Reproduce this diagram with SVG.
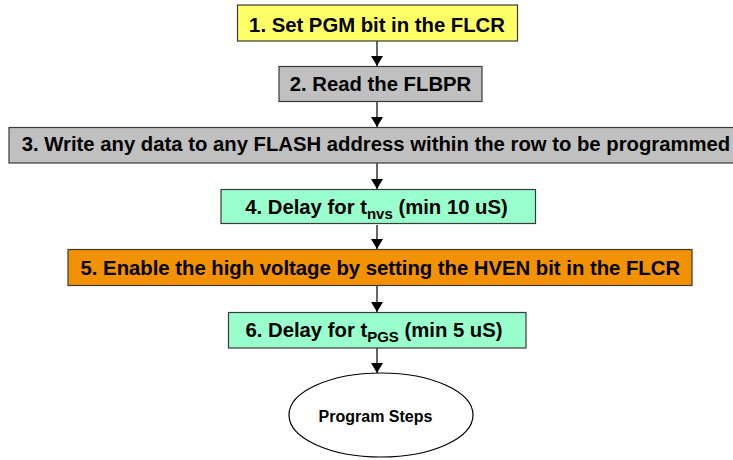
<svg xmlns="http://www.w3.org/2000/svg" width="733" height="460" viewBox="0 0 733 460">
<defs>
<marker id="arr" viewBox="0 0 10 12" refX="10" refY="6" markerWidth="10" markerHeight="12" orient="auto" markerUnits="userSpaceOnUse">
<path d="M0,0 L10,6 L0,12 Z" fill="#000"/>
</marker>
<style>
.box{stroke:#3a3a3a;stroke-width:1.2}
.t{font-family:"Liberation Sans",Arial,sans-serif;font-weight:bold;font-size:20.3px;fill:#000;text-anchor:middle}
.c{stroke:#000;stroke-width:1.2;fill:none;marker-end:url(#arr)}
</style>
</defs>
<rect width="733" height="460" fill="#fff"/>
<g id="connectors">
<line class="c" x1="377" y1="41" x2="377" y2="66"/>
<line class="c" x1="377" y1="102" x2="377" y2="127"/>
<line class="c" x1="377" y1="163" x2="377" y2="189"/>
<line class="c" x1="377" y1="225" x2="377" y2="249"/>
<line class="c" x1="377" y1="286" x2="377" y2="312"/>
<line class="c" x1="377" y1="348" x2="377" y2="373"/>
</g>
<g id="step1">
<rect class="box" x="237.5" y="5" width="280" height="36" fill="#FFFF66"/>
<text class="t" x="377" y="32">1. Set PGM bit in the FLCR</text>
</g>
<g id="step2">
<rect class="box" x="279" y="66.5" width="203" height="35" fill="#C0C0C0"/>
<text class="t" x="380.5" y="91">2. Read the FLBPR</text>
</g>
<g id="step3">
<rect class="box" x="9" y="127.5" width="740" height="35.5" fill="#C0C0C0"/>
<text class="t" x="376" y="151">3. Write any data to any FLASH address within the row to be programmed</text>
</g>
<g id="step4">
<rect class="box" x="221" y="189.5" width="314.5" height="34" fill="#99FFCC"/>
<text class="t" x="376.5" y="213.5">4. Delay for t<tspan font-size="15" dy="5">nvs</tspan><tspan dy="-5"> (min 10 uS)</tspan></text>
</g>
<g id="step5">
<rect class="box" x="68" y="249.5" width="624" height="36" fill="#F39200"/>
<text class="t" x="380.3" y="275">5. Enable the high voltage by setting the HVEN bit in the FLCR</text>
</g>
<g id="step6">
<rect class="box" x="228.5" y="312.5" width="297.5" height="35.5" fill="#99FFCC"/>
<text class="t" x="374" y="337">6. Delay for t<tspan font-size="15" dy="5">PGS</tspan><tspan dy="-5"> (min 5 uS)</tspan></text>
</g>
<g id="end">
<ellipse cx="381" cy="415" rx="92" ry="42" fill="#fff" stroke="#000" stroke-width="1.2"/>
<text class="t" x="375.5" y="421.5" style="font-size:16px">Program Steps</text>
</g>
</svg>
